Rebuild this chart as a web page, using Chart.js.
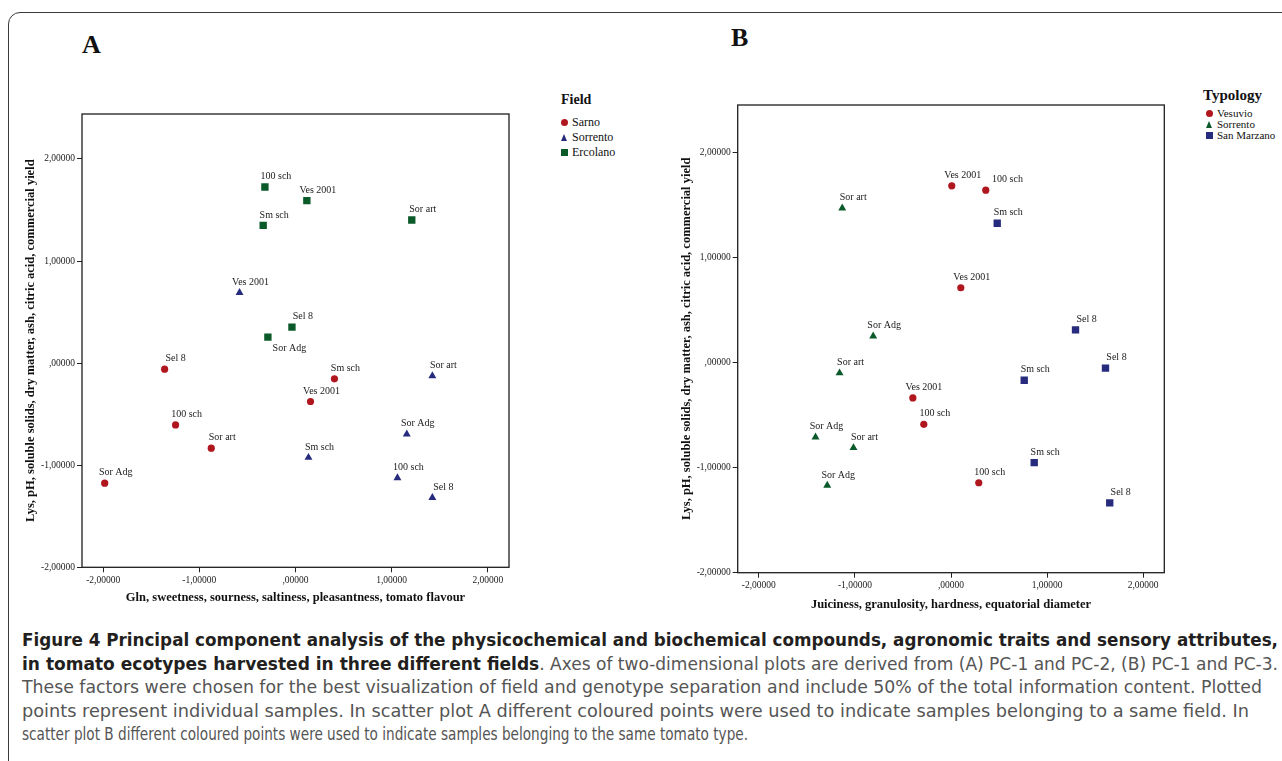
<!DOCTYPE html>
<html><head><meta charset="utf-8">
<script src="https://cdn.jsdelivr.net/npm/chart.js@4.4.1/dist/chart.umd.min.js"></script>
<style>
html,body{margin:0;padding:0;background:#fff;}
body{width:1282px;height:761px;overflow:hidden;position:relative;font-family:'Liberation Serif','Times New Roman',serif;color:#111;}
#frame{position:absolute;left:8px;top:12px;width:1300px;height:780px;border:1.5px solid #3a3a3a;border-radius:12px;box-sizing:border-box;}
canvas{position:absolute;top:0;}
#cA{left:0;}
#cB{left:640px;}
.letter{position:absolute;font-weight:bold;font-size:26px;line-height:26px;font-family:'Liberation Serif',serif;}
.lgTitle{position:absolute;font-weight:bold;font-family:'Liberation Serif',serif;white-space:nowrap;}
.lgItem{position:absolute;white-space:nowrap;font-family:'Liberation Serif',serif;}
.mk{position:absolute;}
.cap{position:absolute;left:22px;white-space:nowrap;font-family:'Liberation Sans Narrow','DejaVu Sans Condensed','Liberation Sans',sans-serif;font-size:17.5px;line-height:20px;height:20px;color:#555;transform-origin:0 50%;}
.cap b{color:#231f20;}
</style>
</head><body>
<div id="frame"></div>
<div class="letter" style="left:82px;top:32px;">A</div>
<div class="letter" style="left:731px;top:25px;">B</div>
<canvas id="cA" width="520" height="620"></canvas>
<canvas id="cB" width="540" height="620"></canvas>
<script>
// ---------- DATA ----------
const xTickValues = [-2, -1, 0, 1, 2];
const xTickLabels = ['-2,00000', '-1,00000', ',00000', '1,00000', '2,00000'];
const yTickValues = [-2, -1, 0, 1, 2];
const yTickLabels = ['-2,00000', '-1,00000', ',00000', '1,00000', '2,00000'];

// Panel A : Field
const fieldNames = ['Sarno', 'Sorrento', 'Ercolano'];
const aSarnoX = [-1.361, 0.405, 0.156, -1.247, -0.876, -1.984];
const aSarnoY = [-0.059, -0.154, -0.376, -0.605, -0.833, -1.176];
const aSarnoLabels = ['Sel 8', 'Sm sch', 'Ves 2001', '100 sch', 'Sor art', 'Sor Adg'];
const aSorrentoX = [-0.582, 1.423, 1.157, 0.135, 1.060, 1.423];
const aSorrentoY = [0.690, -0.125, -0.696, -0.925, -1.125, -1.318];
const aSorrentoLabels = ['Ves 2001', 'Sor art', 'Sor Adg', 'Sm sch', '100 sch', 'Sel 8'];
const aErcolanoX = [-0.318, 0.118, -0.336, -0.037, -0.287, 1.209];
const aErcolanoY = [1.725, 1.591, 1.349, 0.353, 0.255, 1.402];
const aErcolanoLabels = ['100 sch', 'Ves 2001', 'Sm sch', 'Sel 8', 'Sor Adg', 'Sor art'];

// Panel B : Typology
const typologyNames = ['Vesuvio', 'Sorrento', 'San Marzano'];
const bVesuvioX = [0.008, 0.362, 0.102, -0.397, -0.283, 0.289];
const bVesuvioY = [1.681, 1.640, 0.711, -0.337, -0.588, -1.144];
const bVesuvioLabels = ['Ves 2001', '100 sch', 'Ves 2001', 'Ves 2001', '100 sch', '100 sch'];
const bSorrentoX = [-1.132, -0.810, -1.160, -1.410, -1.015, -1.288];
const bSorrentoY = [1.468, 0.250, -0.100, -0.710, -0.811, -1.170];
const bSorrentoLabels = ['Sor art', 'Sor Adg', 'Sor art', 'Sor Adg', 'Sor art', 'Sor Adg'];
const bSanMarzanoX = [0.481, 1.296, 1.608, 0.762, 0.866, 1.652];
const bSanMarzanoY = [1.325, 0.311, -0.054, -0.169, -0.953, -1.335];
const bSanMarzanoLabels = ['Sm sch', 'Sel 8', 'Sel 8', 'Sm sch', 'Sm sch', 'Sel 8'];

const titleAx = 'Gln, sweetness, sourness, saltiness, pleasantness, tomato flavour';
const titleBx = 'Juiciness, granulosity, hardness, equatorial diameter';
const titleY = 'Lys, pH, soluble solids, dry matter, ash, citric acid, commercial yield';

// ---------- STYLE ----------
const RED = '#b0161e', BLUE = '#272b7d', GREEN = '#0b5a2a';
const SERIF = "'Liberation Serif', 'Times New Roman', serif";

const pts = (xs, ys) => xs.map((x, i) => ({x: x, y: ys[i]}));

const framePlugin = {
  id: 'frameBox',
  afterDraw(chart) {
    const {ctx, chartArea: a} = chart;
    ctx.save();
    ctx.strokeStyle = '#1e1e1e';
    ctx.lineWidth = 1.3;
    ctx.strokeRect(a.left, a.top, a.right - a.left, a.bottom - a.top);
    ctx.restore();
  }
};
const labelPlugin = {
  id: 'pointLabels',
  afterDatasetsDraw(chart, args, opts) {
    const ctx = chart.ctx;
    ctx.save();
    ctx.font = '10px ' + SERIF;
    ctx.fillStyle = '#1a1a1a';
    ctx.textAlign = 'center';
    ctx.textBaseline = 'middle';
    const ex = opts.exceptions || {};
    chart.data.datasets.forEach((ds, di) => {
      const meta = chart.getDatasetMeta(di);
      meta.data.forEach((el, i) => {
        const e = ex[di + ':' + i];
        const dx = e ? e[0] : 11, dy = e ? e[1] : -10.5;
        ctx.fillText(ds.pointLabels[i], el.x + dx, el.y + dy);
      });
    });
    ctx.restore();
  }
};

function makeScales(p) {
  const tickFont = {family: SERIF, size: 9.5};
  return {
    x: {
      type: 'linear', min: -2.22, max: 2.22,
      afterBuildTicks: s => { s.ticks = xTickValues.map(v => ({value: v})); },
      ticks: {callback: v => xTickLabels[xTickValues.indexOf(v)], font: tickFont, color: '#222', padding: 2, maxRotation: 0, autoSkip: false, includeBounds: false},
      grid: {drawOnChartArea: false, drawTicks: true, tickLength: 5, color: '#222', lineWidth: 1},
      border: {display: false},
      title: {display: true, text: p.xTitle, color: '#111', font: {family: SERIF, size: 12.5, weight: 'bold'}, padding: {top: 0, bottom: p.xTitlePad}},
      afterFit: s => { s.height = p.xHeight; }
    },
    y: {
      type: 'linear', min: -2, max: p.yMax,
      afterBuildTicks: s => { s.ticks = yTickValues.map(v => ({value: v})); },
      ticks: {callback: v => yTickLabels[yTickValues.indexOf(v)], font: tickFont, color: '#222', padding: 2, autoSkip: false, includeBounds: false},
      grid: {drawOnChartArea: false, drawTicks: true, tickLength: 5, color: '#222', lineWidth: 1},
      border: {display: false},
      title: {display: true, text: titleY, color: '#111', font: {family: SERIF, size: 12.5, weight: 'bold'}, padding: {top: p.yTitlePad, bottom: 0}},
      afterFit: s => { s.width = p.yWidth; }
    }
  };
}

function ds(label, xs, ys, labels, color, style, radius) {
  return {label: label, data: pts(xs, ys), pointLabels: labels, backgroundColor: color, borderColor: color,
          borderWidth: 0, pointStyle: style, pointRadius: radius, pointHoverRadius: radius, showLine: false};
}

new Chart(document.getElementById('cA'), {
  type: 'scatter',
  data: {datasets: [
    ds(fieldNames[0], aSarnoX, aSarnoY, aSarnoLabels, RED, 'circle', 3.6),
    ds(fieldNames[1], aSorrentoX, aSorrentoY, aSorrentoLabels, BLUE, 'triangle', 4.6),
    ds(fieldNames[2], aErcolanoX, aErcolanoY, aErcolanoLabels, GREEN, 'rect', 5.2)
  ]},
  options: {
    responsive: false, animation: false, events: [],
    layout: {padding: {top: 114, right: 11, bottom: 0, left: 0}},
    plugins: {legend: {display: false}, tooltip: {enabled: false},
      pointLabels: {exceptions: {'2:4': [21.5, 11]}}},
    scales: makeScales({xTitle: titleAx, xTitlePad: 14.5, xHeight: 52.7, yMax: 2.44, yTitlePad: 23.5, yWidth: 82})
  },
  plugins: [framePlugin, labelPlugin]
});

new Chart(document.getElementById('cB'), {
  type: 'scatter',
  data: {datasets: [
    ds(typologyNames[0], bVesuvioX, bVesuvioY, bVesuvioLabels, RED, 'circle', 3.6),
    ds(typologyNames[1], bSorrentoX, bSorrentoY, bSorrentoLabels, GREEN, 'triangle', 4.6),
    ds(typologyNames[2], bSanMarzanoX, bSanMarzanoY, bSanMarzanoLabels, BLUE, 'rect', 5.2)
  ]},
  options: {
    responsive: false, animation: false, events: [],
    layout: {padding: {top: 105, right: 15.7, bottom: 0, left: 0}},
    plugins: {legend: {display: false}, tooltip: {enabled: false},
      pointLabels: {exceptions: {'0:1': [21.7, -10.7]}}},
    scales: makeScales({xTitle: titleBx, xTitlePad: 7.5, xHeight: 47.3, yMax: 2.45, yTitlePad: 39.5, yWidth: 97.7})
  },
  plugins: [framePlugin, labelPlugin]
});

// ---------- LEGENDS (HTML) ----------
function marker(shape, color, cx, cy, s) {
  const d = document.createElement('div');
  d.className = 'mk';
  if (shape === 'circle') {
    d.style.cssText = `left:${cx - s/2}px;top:${cy - s/2}px;width:${s}px;height:${s}px;border-radius:50%;background:${color};`;
  } else if (shape === 'rect') {
    d.style.cssText = `left:${cx - s/2}px;top:${cy - s/2}px;width:${s}px;height:${s}px;background:${color};`;
  } else {
    d.style.cssText = `left:${cx - s/2}px;top:${cy - s/2}px;width:0;height:0;border-left:${s/2}px solid transparent;border-right:${s/2}px solid transparent;border-bottom:${s}px solid ${color};`;
  }
  document.body.appendChild(d);
}
function legend(title, tx, ty, tsize, names, shapes, colors, mx, lx, ys, isize) {
  const t = document.createElement('div');
  t.className = 'lgTitle';
  t.textContent = title;
  t.style.cssText = `left:${tx}px;top:${ty - tsize*0.6}px;font-size:${tsize}px;line-height:${tsize*1.2}px;`;
  document.body.appendChild(t);
  names.forEach((n, i) => {
    marker(shapes[i], colors[i], mx, ys[i], 7);
    const d = document.createElement('div');
    d.className = 'lgItem';
    d.textContent = n;
    d.style.cssText = `left:${lx}px;top:${ys[i] - isize*0.6}px;font-size:${isize}px;line-height:${isize*1.2}px;color:#111;`;
    document.body.appendChild(d);
  });
}
legend('Field', 561, 100, 14, fieldNames, ['circle', 'triangle', 'rect'], [RED, BLUE, GREEN], 564.5, 572, [122, 137, 152], 12);
legend('Typology', 1203, 95, 15, typologyNames, ['circle', 'triangle', 'rect'], [RED, GREEN, BLUE], 1209.5, 1217, [113.3, 124.3, 135.3], 11);

// ---------- CAPTION ----------
const captionLines = [
  {html: '<b>Figure 4 Principal component analysis of the physicochemical and biochemical compounds, agronomic traits and sensory attributes,</b>', y: 640, w: 1256},
  {html: '<b>in tomato ecotypes harvested in three different fields</b>. Axes of two-dimensional plots are derived from (A) PC-1 and PC-2, (B) PC-1 and PC-3.', y: 663.5, w: 1256},
  {html: 'These factors were chosen for the best visualization of field and genotype separation and include 50% of the total information content. Plotted', y: 687, w: 1240},
  {html: 'points represent individual samples. In scatter plot A different coloured points were used to indicate samples belonging to a same field. In', y: 710.5, w: 1227},
  {html: 'scatter plot B different coloured points were used to indicate samples belonging to the same tomato type.', y: 734, w: 726}
];
captionLines.forEach(l => {
  const d = document.createElement('div');
  d.className = 'cap';
  d.innerHTML = l.html;
  d.style.top = (l.y - 10) + 'px';
  document.body.appendChild(d);
  const nat = d.getBoundingClientRect().width;
  d.style.transform = `scaleX(${l.w / nat})`;
});
</script>
</body></html>
